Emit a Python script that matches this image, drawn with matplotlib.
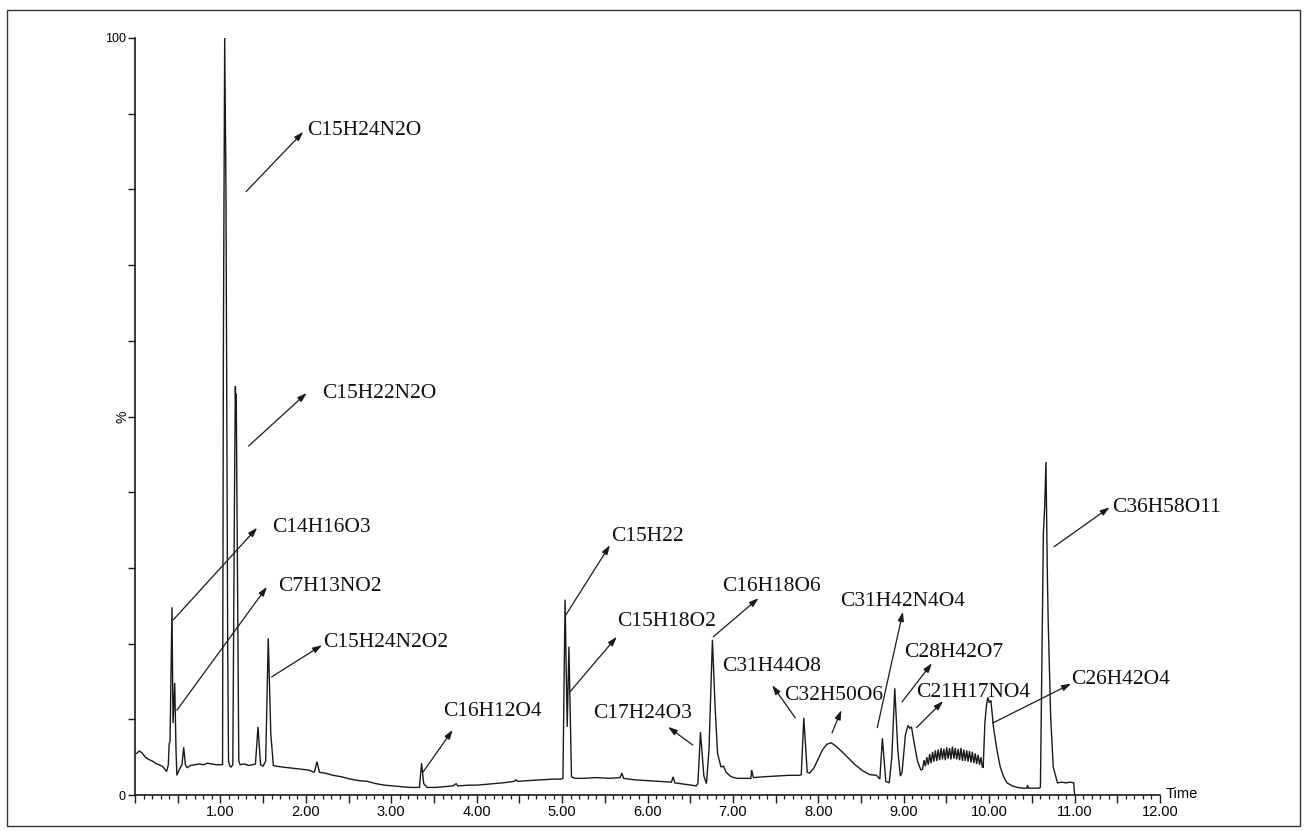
import matplotlib
matplotlib.use("Agg")
import matplotlib.pyplot as plt
from matplotlib.ticker import MultipleLocator, FuncFormatter
from matplotlib.patches import Rectangle

# ---------------- data ----------------
# chromatogram trace, split into retention-time regions: (time in min, intensity in %)
trace_early = [
    (0.02, 5.5), (0.05, 5.8), (0.08, 5.6), (0.12, 5.0), (0.16, 4.7), (0.20, 4.5), (0.24, 4.2),
    (0.28, 4.0), (0.32, 3.8), (0.35, 3.4), (0.37, 3.1), (0.39, 4.0), (0.40, 6.8), (0.41, 7.0),
    (0.433, 24.8), (0.445, 9.5), (0.465, 14.8), (0.48, 6.0), (0.49, 2.6), (0.52, 3.4),
    (0.55, 4.0), (0.57, 6.3), (0.59, 4.0), (0.61, 3.6), (0.65, 3.9), (0.70, 4.0), (0.75, 4.1),
    (0.80, 4.0), (0.85, 4.2), (0.90, 4.1), (0.95, 4.0), (1.00, 4.0),
]
trace_main = [
    (1.025, 4.0), (1.035, 60.0), (1.05, 100.0), (1.065, 80.0), (1.085, 20.0), (1.095, 4.5),
    (1.11, 3.8), (1.125, 3.7), (1.145, 4.0), (1.165, 40.0), (1.175, 54.0), (1.18, 51.0),
    (1.185, 53.0), (1.20, 28.0), (1.215, 4.5), (1.23, 4.0), (1.28, 4.1), (1.33, 3.9),
    (1.38, 4.0), (1.41, 4.1), (1.44, 9.0), (1.47, 4.0), (1.50, 3.8), (1.53, 4.5),
    (1.56, 20.7), (1.59, 8.0), (1.62, 3.9),
]
trace_mid = [
    (1.66, 3.8), (1.72, 3.7), (1.80, 3.6), (1.88, 3.5), (1.95, 3.4), (2.03, 3.3), (2.10, 3.0),
    (2.13, 4.4), (2.16, 3.0), (2.22, 2.9), (2.32, 2.6), (2.42, 2.4), (2.52, 2.1), (2.62, 1.9),
    (2.72, 1.8), (2.82, 1.5), (2.92, 1.3), (3.02, 1.2), (3.12, 1.1), (3.22, 1.0), (3.33, 1.0),
    (3.355, 4.2), (3.38, 1.5), (3.42, 1.0), (3.52, 1.0), (3.62, 1.1), (3.72, 1.2), (3.76, 1.5),
    (3.78, 1.2), (3.90, 1.3), (4.00, 1.3), (4.10, 1.4), (4.20, 1.5), (4.30, 1.6), (4.44, 1.8),
    (4.46, 2.0), (4.48, 1.8), (4.60, 1.9), (4.75, 2.0), (4.90, 2.1), (4.99, 2.1),
]
trace_5_to_8 = [
    (5.01, 2.2), (5.035, 25.8), (5.06, 9.0), (5.08, 19.6), (5.11, 2.4), (5.15, 2.2),
    (5.25, 2.2), (5.40, 2.3), (5.55, 2.2), (5.68, 2.3), (5.70, 2.9), (5.72, 2.2), (5.85, 2.0),
    (6.00, 1.9), (6.15, 1.8), (6.28, 1.7), (6.30, 2.4), (6.32, 1.6), (6.45, 1.4), (6.57, 1.2),
    (6.59, 1.5), (6.62, 8.3), (6.66, 2.5), (6.69, 1.5), (6.72, 6.0), (6.76, 20.5),
    (6.79, 12.0), (6.82, 5.5), (6.86, 3.7), (6.89, 3.8), (6.92, 3.0), (6.98, 2.4), (7.05, 2.2),
    (7.15, 2.2), (7.21, 2.2), (7.22, 3.3), (7.24, 2.3), (7.35, 2.4), (7.50, 2.5), (7.65, 2.6),
    (7.78, 2.6), (7.80, 2.7), (7.83, 10.2), (7.87, 3.0), (7.90, 2.9), (7.95, 3.6), (8.00, 4.8),
    (8.05, 6.0), (8.10, 6.7), (8.15, 6.9), (8.20, 6.5), (8.27, 5.8), (8.35, 4.9), (8.43, 4.0),
    (8.52, 3.2), (8.60, 2.7), (8.68, 2.6), (8.72, 2.1),
]
trace_9 = [
    (8.75, 7.5), (8.79, 1.8), (8.83, 1.6), (8.86, 5.0), (8.895, 14.1), (8.93, 6.0),
    (8.96, 2.5), (8.98, 3.0), (9.02, 8.0), (9.05, 9.2), (9.07, 8.8), (9.09, 9.0), (9.12, 7.0),
    (9.16, 4.5), (9.20, 3.3),
]
trace_noisy_hump = [
    (9.220, 3.4), (9.237, 4.6), (9.253, 3.8), (9.270, 5.0), (9.287, 4.0), (9.303, 5.4),
    (9.320, 4.2), (9.337, 5.7), (9.353, 4.4), (9.370, 5.9), (9.387, 4.5), (9.403, 6.0),
    (9.420, 4.6), (9.437, 6.2), (9.453, 4.7), (9.470, 6.1), (9.487, 4.6), (9.503, 6.3),
    (9.520, 4.8), (9.537, 6.2), (9.553, 4.7), (9.570, 6.4), (9.587, 4.8), (9.603, 6.2),
    (9.620, 4.7), (9.637, 6.1), (9.653, 4.6), (9.670, 6.2), (9.687, 4.5), (9.703, 6.0),
    (9.720, 4.5), (9.737, 5.9), (9.753, 4.4), (9.770, 5.8), (9.787, 4.3), (9.803, 5.7),
    (9.820, 4.2), (9.837, 5.5), (9.853, 4.1), (9.870, 5.3), (9.887, 4.0), (9.903, 5.0),
    (9.920, 3.7),
]
trace_late = [
    (9.93, 3.6), (9.95, 9.6), (9.97, 12.0), (9.985, 12.9), (10.00, 12.2), (10.02, 12.5),
    (10.05, 9.0), (10.09, 6.0), (10.13, 3.7), (10.17, 2.4), (10.21, 1.6), (10.27, 1.2),
    (10.33, 1.0), (10.40, 0.9), (10.44, 0.9), (10.45, 1.3), (10.46, 0.9), (10.52, 0.9),
    (10.58, 0.9), (10.60, 1.0), (10.62, 20.0), (10.635, 34.7), (10.65, 38.0), (10.665, 44.0),
    (10.68, 30.0), (10.69, 23.5), (10.72, 10.3), (10.75, 3.7), (10.80, 1.6), (10.85, 1.7),
    (10.90, 1.6), (10.95, 1.7), (10.99, 1.6), (11.00, 0.0),
]

# compound labels: text, arrow start (on peak), arrow tip, text anchor (left, centre)
compound_labels = ["C15H24N2O", "C15H22N2O", "C14H16O3", "C7H13NO2", "C15H24N2O2",
                   "C16H12O4", "C15H22", "C15H18O2", "C17H24O3", "C16H18O6", "C31H44O8",
                   "C32H50O6", "C31H42N4O4", "C28H42O7", "C21H17NO4", "C26H42O4",
                   "C36H58O11"]
arrow_from = [(1.30, 79.7), (1.33, 46.1), (0.445, 23.1), (0.49, 11.2), (1.60, 15.6),
              (3.37, 3.0), (5.045, 23.8), (5.09, 13.6), (6.53, 6.6), (6.77, 20.9),
              (7.73, 10.2), (8.16, 8.2), (8.69, 8.9), (8.98, 12.3), (9.15, 8.9),
              (10.04, 9.5), (10.76, 32.8)]
arrow_to = [(1.97, 87.6), (2.01, 53.1), (1.43, 35.3), (1.545, 27.5), (2.19, 19.8),
            (3.72, 8.6), (5.56, 33.0), (5.64, 20.9), (6.24, 9.0), (7.30, 26.0),
            (7.46, 14.5), (8.27, 11.2), (8.99, 24.2), (9.33, 17.4), (9.46, 12.4),
            (10.96, 14.7), (11.41, 38.0)]
text_at = [(2.01, 87.8), (2.19, 53.1), (1.60, 35.4), (1.67, 27.5), (2.20, 20.1),
           (3.61, 11.0), (5.58, 34.1), (5.64, 22.9), (5.36, 10.8), (6.87, 27.6),
           (6.87, 17.0), (7.60, 13.2), (8.25, 25.5), (9.01, 18.8), (9.15, 13.6),
           (10.96, 15.3), (11.44, 38.0)]

x_tick_values = [1, 2, 3, 4, 5, 6, 7, 8, 9, 10, 11, 12]
y_tick_labels = {0: "0", 100: "100"}

# ---------------- figure ----------------
trace = (trace_early + trace_main + trace_mid + trace_5_to_8 + trace_9
         + trace_noisy_hump + trace_late)
time_min = [p[0] for p in trace]
intensity_pct = [p[1] for p in trace]

W, H, DPI = 1307, 831, 100
fig = plt.figure(figsize=(W / DPI, H / DPI), dpi=DPI)
fig.patch.set_facecolor("white")

left_px, right_px, top_px, bottom_px = 135, 1160, 38, 795
ax = fig.add_axes([left_px / W, (H - bottom_px) / H,
                   (right_px - left_px) / W, (bottom_px - top_px) / H])

ax.plot(time_min, intensity_pct, color="#1a1a1a", lw=1.0, solid_joinstyle="miter")

ax.set_xlim(0, 12)
ax.set_ylim(0, 100)
for s in ("top", "right"):
    ax.spines[s].set_visible(False)
for s in ("left", "bottom"):
    ax.spines[s].set_linewidth(1.2)
    ax.spines[s].set_color("#1a1a1a")

sans = "Liberation Sans"
serif = "Liberation Serif"

ax.xaxis.set_major_locator(MultipleLocator(0.5))
ax.xaxis.set_minor_locator(MultipleLocator(0.1))
ax.xaxis.set_major_formatter(FuncFormatter(
    lambda v, p: f"{v:.2f}" if (abs(v - round(v)) < 1e-6 and round(v) in x_tick_values) else ""))
ax.tick_params(axis="x", which="major", direction="out", length=5.5, width=1.0,
               color="#1a1a1a", pad=1.5, labelsize=10.5)
ax.tick_params(axis="x", which="minor", direction="out", length=3, width=0.9, color="#1a1a1a")
for lab in ax.get_xticklabels():
    lab.set_fontfamily(sans)

ax.yaxis.set_major_locator(MultipleLocator(10))
ax.yaxis.set_major_formatter(FuncFormatter(lambda v, p: y_tick_labels.get(int(round(v)), "")))
ax.tick_params(axis="y", which="major", direction="out", length=5, width=1.0,
               color="#1a1a1a", pad=1.5, labelsize=9)
for lab in ax.get_yticklabels():
    lab.set_fontfamily(sans)

ax.text(-0.15, 50, "%", fontsize=10, family=sans, rotation=90, ha="center", va="center",
        clip_on=False)
ax.annotate("Time", xy=(1, 0), xycoords="axes fraction", xytext=(4, 1),
            textcoords="offset points", fontsize=10.5, family=sans, ha="left", va="center")

for lab, p0, p1, pt in zip(compound_labels, arrow_from, arrow_to, text_at):
    ax.annotate("", xy=p1, xytext=p0,
                arrowprops=dict(arrowstyle="-|>,head_length=0.55,head_width=0.18",
                                lw=0.9, color="#1a1a1a", shrinkA=0, shrinkB=0),
                annotation_clip=False)
    ax.text(pt[0], pt[1], lab, fontsize=15.5, family=serif, ha="left", va="center",
            color="#111111", clip_on=False)

# outer frame
fig.patches.append(Rectangle((7 / W, 5 / H), (1300 - 7) / W, (826 - 10) / H,
                             transform=fig.transFigure, fill=False, lw=1.0,
                             edgecolor="#333333"))

fig.savefig("out.png", dpi=DPI, facecolor="white")
